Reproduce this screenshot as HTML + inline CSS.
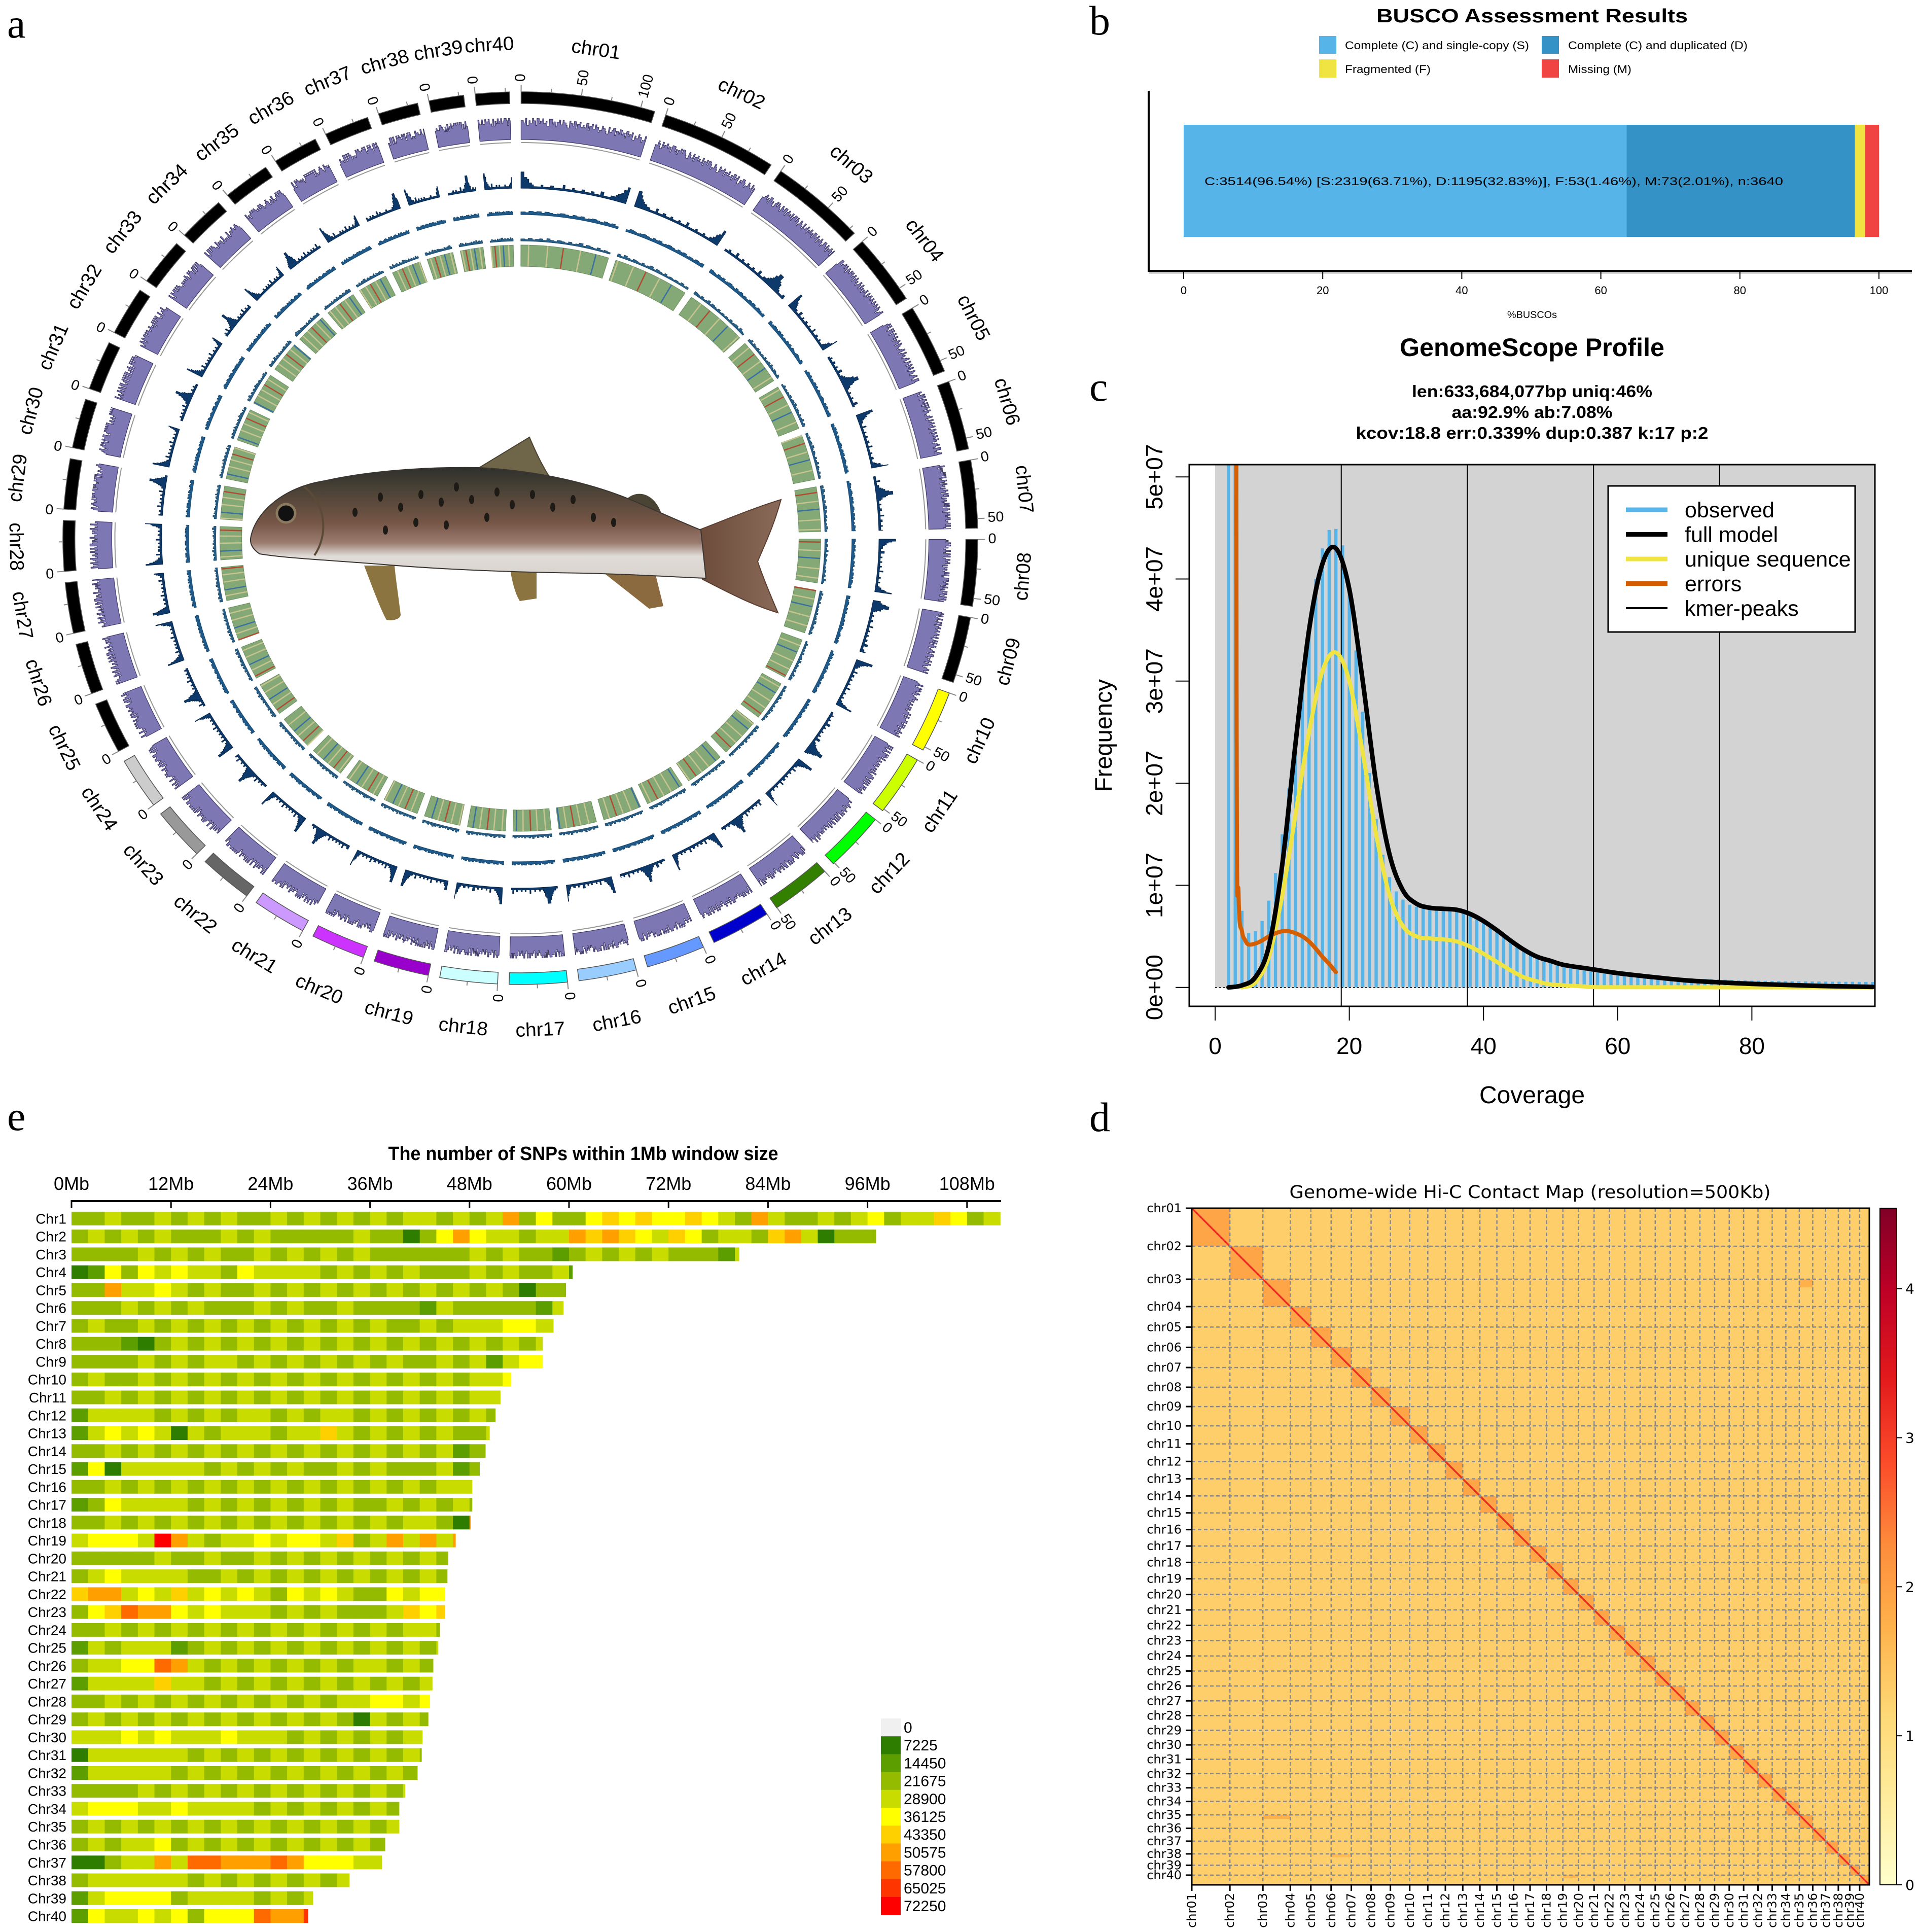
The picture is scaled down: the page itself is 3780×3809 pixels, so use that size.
<!DOCTYPE html>
<html><head><meta charset="utf-8"><title>Genome assembly figure</title>
<style>html,body{margin:0;padding:0;background:#fff}svg{display:block}</style></head>
<body>
<svg id="fig" xmlns="http://www.w3.org/2000/svg" width="3780" height="3809" viewBox="0 0 3780 3809" font-family="Liberation Sans, sans-serif">
<defs>
<linearGradient id="fishBody" x1="0" y1="0" x2="0" y2="1">
<stop offset="0" stop-color="#2f302c"/><stop offset="0.2" stop-color="#4a4236"/><stop offset="0.5" stop-color="#765646"/><stop offset="0.68" stop-color="#9a7c70"/><stop offset="0.8" stop-color="#e0dcd8"/><stop offset="1" stop-color="#d8d2cc"/>
</linearGradient>
<linearGradient id="tailGrad" x1="0" y1="0" x2="1" y2="0"><stop offset="0" stop-color="#6b4a3a"/><stop offset="1" stop-color="#8a6a58"/></linearGradient>
<linearGradient id="cbarGrad" x1="0" y1="0" x2="0" y2="1">
<stop offset="0" stop-color="#800026"/><stop offset="0.12" stop-color="#bd0026"/><stop offset="0.25" stop-color="#e31a1c"/><stop offset="0.38" stop-color="#fc4e2a"/><stop offset="0.5" stop-color="#fd8d3c"/><stop offset="0.62" stop-color="#feb24c"/><stop offset="0.75" stop-color="#fed976"/><stop offset="0.88" stop-color="#ffeda0"/><stop offset="1" stop-color="#ffffcc"/>
</linearGradient>
<clipPath id="gsClip"><rect x="2345" y="916" width="1352" height="1068"/></clipPath>
</defs>
<rect x="0" y="0" width="3780" height="3809" fill="#ffffff"/>

<text x="14" y="74" font-family="Liberation Serif, serif" font-size="82">a</text>
<text x="2148" y="68" font-family="Liberation Serif, serif" font-size="82">b</text>
<text x="2148" y="790" font-family="Liberation Serif, serif" font-size="82">c</text>
<text x="2148" y="2230" font-family="Liberation Serif, serif" font-size="82">d</text>
<text x="14" y="2228" font-family="Liberation Serif, serif" font-size="82">e</text>

<g id="circos" transform="translate(1026,1061) scale(1.025,1)"></g>

<g id="fish">
<path d="M935,928 L1044,862 C1060,900 1075,930 1098,962 Z" fill="#6f6548" stroke="#4a4030" stroke-width="2"/>
<path d="M1228,992 C1250,962 1290,968 1305,1015 L1262,1018 Z" fill="#4a4434"/>
<path d="M1370,1048 C1430,1025 1490,1000 1540,985 C1525,1040 1505,1080 1494,1107 C1505,1140 1520,1175 1534,1208 C1480,1192 1430,1165 1385,1142 Z" fill="url(#tailGrad)" stroke="#5a3e30" stroke-width="2"/>
<path d="M718,1115 C735,1160 750,1200 762,1222 C775,1225 790,1220 790,1212 C785,1170 780,1140 778,1115 Z" fill="#8c7440"/>
<path d="M1004,1110 C1008,1140 1015,1170 1025,1185 L1058,1180 L1058,1112 Z" fill="#8c7440"/>
<path d="M1176,1118 L1280,1200 L1308,1195 L1290,1122 Z" fill="#8c6a40"/>
<path d="M494,1062 C502,1010 560,960 640,948 C720,930 830,920 945,922 C1065,928 1175,955 1255,990 C1305,1012 1345,1030 1382,1045 L1392,1140 C1330,1138 1250,1132 1150,1130 C1000,1128 860,1122 745,1112 C640,1104 560,1100 512,1092 C500,1084 493,1074 494,1062 Z" fill="url(#fishBody)" stroke="#3a3530" stroke-width="2"/>
<path d="M600,960 C640,990 650,1050 620,1095" fill="none" stroke="#5a4a36" stroke-width="4"/>
<circle cx="564" cy="1012" r="18" fill="#111" stroke="#8a7a60" stroke-width="5"/>
<g fill="#1e1a16">
<ellipse cx="750" cy="980" rx="5" ry="9"/><ellipse cx="790" cy="1000" rx="5" ry="9"/><ellipse cx="830" cy="975" rx="5" ry="9"/><ellipse cx="870" cy="990" rx="5" ry="9"/><ellipse cx="900" cy="960" rx="5" ry="9"/><ellipse cx="930" cy="985" rx="5" ry="9"/><ellipse cx="980" cy="970" rx="5" ry="9"/><ellipse cx="1010" cy="995" rx="5" ry="9"/><ellipse cx="1050" cy="975" rx="5" ry="9"/><ellipse cx="1090" cy="1000" rx="5" ry="9"/><ellipse cx="1130" cy="985" rx="5" ry="9"/><ellipse cx="820" cy="1030" rx="5" ry="9"/><ellipse cx="760" cy="1045" rx="5" ry="9"/><ellipse cx="880" cy="1035" rx="5" ry="9"/><ellipse cx="960" cy="1020" rx="5" ry="9"/><ellipse cx="1170" cy="1020" rx="5" ry="9"/><ellipse cx="1210" cy="1030" rx="5" ry="9"/><ellipse cx="700" cy="1010" rx="5" ry="9"/>
</g>
</g>

<g id="busco">
<text x="3021" y="44" text-anchor="middle" font-weight="bold" font-size="38" textLength="614" lengthAdjust="spacingAndGlyphs">BUSCO Assessment Results</text>
<rect x="2601" y="71" width="34" height="35" fill="#56b4e8"/>
<text x="2652" y="97" font-size="22" textLength="363" lengthAdjust="spacingAndGlyphs">Complete (C) and single-copy (S)</text>
<rect x="3040" y="71" width="34" height="35" fill="#3492c7"/>
<text x="3092" y="97" font-size="22" textLength="354" lengthAdjust="spacingAndGlyphs">Complete (C) and duplicated (D)</text>
<rect x="2601" y="117" width="34" height="36" fill="#f0e442"/>
<text x="2652" y="144" font-size="22" textLength="169" lengthAdjust="spacingAndGlyphs">Fragmented (F)</text>
<rect x="3040" y="117" width="34" height="36" fill="#f04442"/>
<text x="3092" y="144" font-size="22" textLength="125" lengthAdjust="spacingAndGlyphs">Missing (M)</text>
<g id="buscoBars"></g>
<text x="2375" y="365" font-size="22" textLength="1141" lengthAdjust="spacingAndGlyphs">C:3514(96.54%) [S:2319(63.71%), D:1195(32.83%)], F:53(1.46%), M:73(2.01%), n:3640</text>
<line x1="2265" y1="179" x2="2265" y2="534" stroke="#000" stroke-width="4"/>
<line x1="2263" y1="534" x2="3770" y2="534" stroke="#000" stroke-width="4"/>
<line x1="2265" y1="538" x2="3770" y2="538" stroke="#bbb" stroke-width="3"/>
<g id="buscoTicks"></g>
<text x="3021" y="627" text-anchor="middle" font-size="19" textLength="98" lengthAdjust="spacingAndGlyphs">%BUSCOs</text>
</g>

<g id="gs">
<text x="3021" y="702" text-anchor="middle" font-weight="bold" font-size="50" textLength="522" lengthAdjust="spacingAndGlyphs">GenomeScope Profile</text>
<text x="3021" y="783" text-anchor="middle" font-weight="bold" font-size="33" textLength="474" lengthAdjust="spacingAndGlyphs">len:633,684,077bp uniq:46%</text>
<text x="3021" y="824" text-anchor="middle" font-weight="bold" font-size="33" textLength="317" lengthAdjust="spacingAndGlyphs">aa:92.9% ab:7.08%</text>
<text x="3021" y="865" text-anchor="middle" font-weight="bold" font-size="33" textLength="695" lengthAdjust="spacingAndGlyphs">kcov:18.8 err:0.339%  dup:0.387  k:17 p:2</text>
<rect x="2396" y="916" width="1301" height="1031" fill="#d3d3d3"/>
<g id="gsMarks" clip-path="url(#gsClip)"></g>
<rect x="2345" y="916" width="1352" height="1068" fill="none" stroke="#000" stroke-width="3"/>
<g id="gsAxes"></g>
<text transform="translate(2192,1450) rotate(-90)" text-anchor="middle" font-size="47">Frequency</text>
<text x="3021" y="2175" text-anchor="middle" font-size="48">Coverage</text>
<rect x="3171" y="958" width="487" height="288" fill="#fff" stroke="#000" stroke-width="3"/>
<g id="gsLegend"></g>
</g>

<g id="snp">
<text x="1150" y="2287" text-anchor="middle" font-weight="bold" font-size="38" textLength="769" lengthAdjust="spacingAndGlyphs">The number of SNPs within 1Mb window size</text>
<line x1="141" y1="2368" x2="1974" y2="2368" stroke="#000" stroke-width="4"/>
<g id="snpAxis"></g>
<g id="snpRows"></g>
<g id="snpLegend"></g>
</g>

<g id="hic" font-family="DejaVu Sans, sans-serif">
<text x="3017" y="2362" text-anchor="middle" font-size="35" textLength="949" lengthAdjust="spacingAndGlyphs">Genome-wide Hi-C Contact Map (resolution=500Kb)</text>
<g id="hicMap"></g>
<rect x="2350" y="2382" width="1336" height="1334" fill="none" stroke="#000" stroke-width="3"/>
<g id="hicLabels"></g>
<rect x="3707" y="2382" width="33" height="1334" fill="url(#cbarGrad)" stroke="#000" stroke-width="2"/>
<g id="cbarTicks"></g>
</g>
</svg>

<script>
const CHR_NAMES = ["01","02","03","04","05","06","07","08","09","10","11","12","13","14","15","16","17","18","19","20","21","22","23","24","25","26","27","28","29","30","31","32","33","34","35","36","37","38","39","40"];
const CHR_LEN = [112,97,80.5,60.4,59.6,59.3,58.1,56.8,56.8,53,51.7,51.1,50.4,49.9,49.2,48.3,48.3,48.1,46.3,45.4,45.3,45,45,44.4,44.2,43.6,43.5,43.2,43,42.3,42.2,41.7,40.2,39.5,39.5,37.8,37.4,33.5,29.1,28.5];
const CHR_COLOR = ["#000","#000","#000","#000","#000","#000","#000","#000","#000","#ffff00","#ccff00","#00ff00","#338000","#0000cc","#6699ff","#99ccff","#00ffff","#ccffff","#9900cc","#cc33ff","#cc99ff","#666666","#999999","#cccccc","#000","#000","#000","#000","#000","#000","#000","#000","#000","#000","#000","#000","#000","#000","#000","#000"];
const PURPLE_PAT = "87968798697897869978689798769879689787968979867987697896879786978968798679";
const BLUE1_PAT = "96532111211121111311121112111211131112234579";
const BLUE2_PAT = "4354535434543545345435453";
const BLUE3_PAT = "3242342532432423524324232";
const STRIPE_PAT = "....y..........y........r.........y........b.......";
const BUSCO_CATS = ["single","duplicated","fragmented","missing"];
const BUSCO_PCT = [63.71, 32.83, 1.46, 2.01];
const BUSCO_COLORS = ["#56b4e8","#3492c7","#f0e442","#f04442"];
const BUSCO_TICKS = [0,20,40,60,80,100];
const GS_OBS_COV = [2,3,4,5,6,7,8,9,10,11,12,13,14,15,16,17,18,19,20,21,22,23,24,25,26,27,28,29,30,31,32,33,34,35,36,37,38,39,40,41,42,43,44,45,46,47,48,49,50,51,52,53,54,55,56,57,58,59,60,61,62,63,64,65,66,67,68,69,70,71,72,73,74,75,76,77,78,79,80,81,82,83,84,85,86,87,88,89,90,91,92,93,94,95,96,97,98];
const GS_OBS = [80,60,7.5,5.3,5.5,6.5,8.5,11.2,15,19.5,24.7,30,35.3,40,43,44.8,44.9,43.3,39,33,27,21,16.5,13,10.8,9.4,8.6,8.1,7.9,7.8,7.8,7.7,7.7,7.6,7.5,7.3,7.1,6.8,6.4,6.0,5.5,5.0,4.5,4.1,3.7,3.3,3.0,2.7,2.5,2.3,2.2,2.1,2.0,1.9,1.8,1.75,1.65,1.55,1.5,1.4,1.35,1.3,1.2,1.15,1.1,1.05,1.0,0.95,0.9,0.88,0.85,0.82,0.8,0.78,0.75,0.72,0.7,0.68,0.66,0.65,0.64,0.63,0.62,0.61,0.6,0.6,0.59,0.58,0.58,0.57,0.56,0.56,0.55,0.55,0.54,0.54,0.53];
const GS_FULL_COV = [2,4,6,8,10,12,14,16,18,20,22,24,26,28,30,32,34,36,38,40,42,44,46,48,50,52,56,60,64,70,75,80,90,98];
const GS_FULL = [0,0.2,1,4,12,24,35,41.5,43,39,30,20,13,9.5,8.2,7.8,7.7,7.6,7.2,6.5,5.6,4.6,3.7,3,2.6,2.2,1.8,1.4,1.1,0.7,0.5,0.35,0.15,0.05];
const GS_UNIQ_COV = [4,6,8,10,12,14,16,18,20,22,24,26,28,30,32,34,36,38,40,42,44,46,48,50,55,60,98];
const GS_UNIQ = [0,0.5,3,9,17,25,31,32.8,30,23,15,9,6,5,4.8,4.7,4.5,4,3.3,2.5,1.7,1,0.6,0.3,0.1,0.02,0];
const GS_ERR_COV = [3,3.2,3.5,4,4.5,5,6,7,8,9,10,11,12,13,14,15,16,17,18];
const GS_ERR = [200,30,9,5.5,4.6,4.2,4.3,4.6,5.0,5.3,5.5,5.5,5.3,5.0,4.5,3.8,3.0,2.3,1.5];
const GS_PEAKS = [18.8,37.6,56.4,75.2];
const GS_XTICKS = [0,20,40,60,80];
const GS_YTICKS = [0,10,20,30,40,50];
const GS_YLABELS = ["0e+00","1e+07","2e+07","3e+07","4e+07","5e+07"];
const GS_LEGEND = ["observed","full model","unique sequence","errors","kmer-peaks"];
const GS_LEGEND_COLORS = ["#56b4e9","#000000","#f0e442","#d55e00","#000000"];
const SNP_ROWS = [
"33433434343343434343443434735335656556543743343453446534",
"3434343334343333343313575443447676546534436741333434",
"3333434343343434343333334343323434343332",
"1253545443544443434343334343342",
"3374454343343434343434343431333",
"3334343433343433433332433333245541",
"34334343434343434343343444554451",
"3332134343434343434343434343443",
"3333434344343434343433434245553",
"343343434343434343434343445432",
"3343434343434343434343434441",
"2444434343443434434343434344",
"2454541434443446434343433443",
"3343434343434343434343423443",
"2514444434343433434333423334",
"3343434343434343434343444341",
"2354444343434343433434343441",
"3343434343434343434344317663",
"45554A743445455463474747995553",
"3333343343343434343434344441",
"3454444334343434343434341433",
"67745464545435454335455336541",
"35687754544434343334656445674544",
"3343434343434343434344344241",
"2434442343434343434343434443",
"3445587434343434344343434343",
"2444464434343434343434345342",
"3343434343434343445545555542",
"3434343434343434314343434343",
"4445454445444343434344444232",
"1444444343434343434343434342",
"2444443434343434343434343342",
"3333434343434343434343425451",
"4555445444434343434353434342",
"3434343434343434343455354342",
"3434453434343434343433444541",
"1134474887778755544445443",
"3444444343434343434434342",
"24555534444343433432",
"2544545355587797553"];
const SNP_LEVEL_COLORS = ["#f0f0f0","#2e7d00","#5c9e00","#95bb00","#c8dc00","#ffff00","#ffd000","#ff9f00","#ff6a00","#ff3500","#ff0000"];
const SNP_LEGEND_VALUES = ["0","7225","14450","21675","28900","36125","43350","50575","57800","65025","72250"];
const SNP_TICKS = [0,12,24,36,48,60,72,84,96,108];
const SNP_TICK_LABELS = ["0Mb","12Mb","24Mb","36Mb","48Mb","60Mb","72Mb","84Mb","96Mb","108Mb"];
const HIC_BG = 1.3;
const HIC_INTRA = 1.9;
const HIC_DIAG = 3.2;
const HIC_INTER = [[34,2,1.75],[2,34,1.75],[37,5,1.6],[39,18,1.6],[18,39,1.6]];
const CBAR_TICKS = [0,1,2,3,4];
const CBAR_MAX = 4.54;

const NS = "http://www.w3.org/2000/svg";
function el(tag, attrs, parent) {
  const e = document.createElementNS(NS, tag);
  for (const k in attrs) e.setAttribute(k, attrs[k]);
  parent.appendChild(e);
  return e;
}
const $ = id => document.getElementById(id);

(function(){
  const g = $("circos");
  const GAP = 1.45, START = 0.1;
  const total = CHR_LEN.reduce((a,b)=>a+b,0);
  const K = (360 - 40*GAP) / total;
  const R = {kOut:880, kIn:857, pBase:786, pMax:42, b1Base:690, b1Max:32, b2Base:638, b2Max:12, b3Base:586, b3Max:12, hIn:536, hOut:578, lab:972, tick:900};
  const pol = (r,a) => { const t=a*Math.PI/180; return [ (r*Math.sin(t)).toFixed(1), (-r*Math.cos(t)).toFixed(1) ]; };
  const sector = (r0,r1,a0,a1) => { const p1=pol(r1,a0),p2=pol(r1,a1),p3=pol(r0,a1),p4=pol(r0,a0); const L=(a1-a0)>180?1:0;
    return `M${p1} A${r1},${r1} 0 ${L} 1 ${p2} L${p3} A${r0},${r0} 0 ${L} 0 ${p4} Z`; };
  function track(pat, base, max, a0, len, ci, rev, fill, stroke, name) {
    const n = Math.ceil(len); let d = "";
    for (let j=0;j<n;j++) {
      let idx = Math.floor(j/n*pat.length);
      if (rev) idx = pat.length-1-idx;
      const v = +pat[(idx + (rev?0:ci*5)) % pat.length];
      const h = base + v/9*max;
      const s = a0 + j*K, e = a0 + Math.min(j+1,len)*K;
      d += (j===0?"M":"L") + pol(h,s) + " L" + pol(h,e) + " ";
    }
    d += "L" + pol(base, a0+len*K) + " A" + base + "," + base + " 0 0 0 " + pol(base, a0) + " Z";
    const p = el("path", {d:d, fill:fill, stroke:stroke, "stroke-width":1.2, "stroke-linejoin":"round"}, g);
    
    
  }
  let a = START;
  for (let i=0;i<40;i++) {
    const len = CHR_LEN[i], a1 = a + len*K, mid = (a+a1)/2;
    const ideo = el("path", {d:sector(R.kIn,R.kOut,a,a1), fill:CHR_COLOR[i], stroke:"#555", "stroke-width":1.5}, g);
    
    
    for (let t=0;t<=len;t+=25) {
      const ta = a + t*K, q1=pol(R.kOut,ta), q2=pol(R.kOut+(t%50===0?14:8),ta);
      el("line", {x1:q1[0],y1:q1[1],x2:q2[0],y2:q2[1],stroke:"#888","stroke-width":2}, g);
      if (t%50===0) {
        const q = pol(R.tick, ta);
        const tl = el("text", {x:0,y:0,"font-size":28,"dominant-baseline":"middle",transform:`translate(${q[0]},${q[1]}) rotate(${ta-90})`}, g);
        tl.textContent = String(t);
        
        
      }
    }
    const lp = pol(R.lab, mid);
    const rot = (mid>92 && mid<270) ? mid-180 : mid;
    const lab = el("text", {x:0,y:0,"font-size":38,"text-anchor":"middle","dominant-baseline":"middle",transform:`translate(${lp[0]},${lp[1]}) rotate(${rot})`}, g);
    lab.textContent = "chr" + CHR_NAMES[i];
    
    
    track(PURPLE_PAT, R.pBase, R.pMax, a, len, i, false, "#7d77b3", "#3d3868", "gene-density-track");
    const bl = el("path", {d:`M${pol(R.pBase-6,a)} A${R.pBase-6},${R.pBase-6} 0 0 1 ${pol(R.pBase-6,a1)}`, fill:"none", stroke:"#999","stroke-width":2}, g);
    
    
    track(BLUE1_PAT, R.b1Base, R.b1Max, a, len, i, i%2===1, "#0d3a6b", "#0a2a50", "repeat-density-track");
    track(BLUE2_PAT, R.b2Base, R.b2Max, a, len, i, false, "#1f5a8a", "#174a72", "gc-content-track");
    track(BLUE3_PAT, R.b3Base, R.b3Max, a, len, i, false, "#2a6088", "#1d4d70", "snp-density-track");
    const hm = el("path", {d:sector(R.hIn,R.hOut,a,a1), fill:"#84a977", stroke:"#6d8f60","stroke-width":1}, g);
    
    
    const n = STRIPE_PAT.length;
    for (let s=0;s<n;s++) {
      const c = STRIPE_PAT[(s+i*3)%n];
      if (c===".") continue;
      const sa = a + (s+0.5)/n*len*K, q1=pol(R.hIn,sa), q2=pol(R.hOut,sa);
      const col = c==="y" ? "#c8c490" : (c==="r" ? "#b04a30" : "#3a70a0");
      const st = el("line", {x1:q1[0],y1:q1[1],x2:q2[0],y2:q2[1],stroke:col,"stroke-width":2.5}, g);
      
      
    }
    a = a1 + GAP;
  }
})();

(function(){
  const bx = v => 2334 + 13.71*v;
  const gb = $("buscoBars"), gt = $("buscoTicks");
  let acc = 0;
  for (let i=0;i<BUSCO_PCT.length;i++) {
    const r = el("rect", {x:bx(acc), y:246, width:Math.max(0,bx(acc+BUSCO_PCT[i])-bx(acc)), height:221, fill:BUSCO_COLORS[i]}, gb);
    
    
    acc += BUSCO_PCT[i];
  }
  for (const t of BUSCO_TICKS) {
    el("line", {x1:bx(t),y1:536,x2:bx(t),y2:550,stroke:"#000","stroke-width":2}, gt);
    const tx = el("text", {x:bx(t), y:580, "text-anchor":"middle","font-size":22}, gt);
    tx.textContent = String(t);
    
    
  }
})();

(function(){
  const X = v => 2396 + 13.23*v;
  const Y = v => 1946.7 - 20.13*v;
  const gm = $("gsMarks"), ga = $("gsAxes"), gl = $("gsLegend");
  for (let i=0;i<GS_OBS.length;i++) {
    const c = GS_OBS_COV[i], h = GS_OBS[i];
    const b = el("rect", {x:X(c)-3.2, y:Y(h), width:6.4, height:Y(0)-Y(h), fill:"#56b4e9"}, gm);
    
    
  }
  el("line", {x1:X(0),y1:Y(0),x2:3697,y2:Y(0),stroke:"#000","stroke-width":1.5,"stroke-dasharray":"4,4"}, gm);
  for (const p of GS_PEAKS) {
    const l = el("line", {x1:X(p),y1:916,x2:X(p),y2:1984,stroke:"#000","stroke-width":2}, gm);
    
    
  }
  const smooth = (xs, ys, color, w, name) => {
    const P = xs.map((x,i)=>[X(x), Y(ys[i])]);
    let d = "M" + P[0][0].toFixed(1) + "," + P[0][1].toFixed(1);
    for (let i=0;i<P.length-1;i++) {
      const p0=P[Math.max(0,i-1)], p1=P[i], p2=P[i+1], p3=P[Math.min(P.length-1,i+2)];
      const c1=[p1[0]+(p2[0]-p0[0])/6, p1[1]+(p2[1]-p0[1])/6], c2=[p2[0]-(p3[0]-p1[0])/6, p2[1]-(p3[1]-p1[1])/6];
      d += " C"+c1[0].toFixed(1)+","+c1[1].toFixed(1)+" "+c2[0].toFixed(1)+","+c2[1].toFixed(1)+" "+p2[0].toFixed(1)+","+p2[1].toFixed(1);
    }
    const p = el("path", {d:d, fill:"none", stroke:color, "stroke-width":w, "stroke-linejoin":"round","stroke-linecap":"round"}, gm);
    
    
  };
  smooth(GS_UNIQ_COV, GS_UNIQ, "#f0e442", 8, "unique-sequence-line");
  smooth(GS_ERR_COV, GS_ERR, "#d55e00", 8, "errors-line");
  smooth(GS_FULL_COV, GS_FULL, "#000000", 9, "full-model-line");
  GS_XTICKS.forEach(t => {
    el("line", {x1:X(t),y1:1984,x2:X(t),y2:2012,stroke:"#000","stroke-width":2}, ga);
    const tx = el("text", {x:X(t),y:2078,"text-anchor":"middle","font-size":46}, ga);
    tx.textContent = String(t);
    
    
  });
  GS_YTICKS.forEach((t,i) => {
    el("line", {x1:2345,y1:Y(t),x2:2318,y2:Y(t),stroke:"#000","stroke-width":2}, ga);
    const tx = el("text", {x:0,y:0,"text-anchor":"middle","font-size":46,transform:`translate(2292,${Y(t)}) rotate(-90)`}, ga);
    tx.textContent = GS_YLABELS[i];
    
    
  });
  GS_LEGEND.forEach((name,i) => {
    const y = 1005 + i*48.5;
    el("line", {x1:3206,y1:y,x2:3288,y2:y,stroke:GS_LEGEND_COLORS[i],"stroke-width":i===4?4:9}, gl);
    const tx = el("text", {x:3322,y:y+15,"font-size":43}, gl);
    tx.textContent = name;
    
    
  });
})();

(function(){
  const X = mb => 141 + 16.35*mb;
  const ga = $("snpAxis"), gr = $("snpRows"), gl = $("snpLegend");
  SNP_TICKS.forEach((t,i) => {
    el("line", {x1:X(t),y1:2366,x2:X(t),y2:2382,stroke:"#000","stroke-width":3}, ga);
    const tx = el("text", {x:X(t),y:2346,"text-anchor":"middle","font-size":36}, ga);
    tx.textContent = SNP_TICK_LABELS[i];
    
    
  });
  for (let i=0;i<40;i++) {
    const yc = 2402.4 + 35.26*i, len = CHR_LEN[i], row = SNP_ROWS[i];
    const lab = el("text", {x:131,y:yc+10,"text-anchor":"end","font-size":28}, gr);
    lab.textContent = "Chr" + (i+1);
    
    
    const nb = Math.ceil(len/2);
    for (let b=0;b<nb;b++) {
      const ch = row[b] || "4";
      const lv = ch==="A" ? 10 : +ch;
      const s = b*2, e = Math.min(len, b*2+2);
      const r = el("rect", {x:X(s).toFixed(1), y:(yc-13.5).toFixed(1), width:(X(e)-X(s)+0.6).toFixed(1), height:27, fill:SNP_LEVEL_COLORS[lv]}, gr);
      
      
    }
  }
  SNP_LEGEND_VALUES.forEach((v,i) => {
    const y = 3388 + i*35.2;
    const r = el("rect", {x:1737,y:y,width:39,height:35.4,fill:SNP_LEVEL_COLORS[i]}, gl);
    
    
    const tx = el("text", {x:1782,y:y+28,"font-size":30}, gl);
    tx.textContent = v;
    
    
  });
})();

(function(){
  const stops = [[0,"#800026"],[0.12,"#bd0026"],[0.25,"#e31a1c"],[0.38,"#fc4e2a"],[0.5,"#fd8d3c"],[0.62,"#feb24c"],[0.75,"#fed976"],[0.88,"#ffeda0"],[1,"#ffffcc"]];
  const hex = h => [parseInt(h.slice(1,3),16),parseInt(h.slice(3,5),16),parseInt(h.slice(5,7),16)];
  function color(v) {
    const o = Math.min(1, Math.max(0, 1 - v/CBAR_MAX));
    for (let i=0;i<stops.length-1;i++) {
      if (o>=stops[i][0] && o<=stops[i+1][0]) {
        const f=(o-stops[i][0])/(stops[i+1][0]-stops[i][0]), a=hex(stops[i][1]), b=hex(stops[i+1][1]);
        return "rgb("+a.map((c,k)=>Math.round(c+(b[k]-c)*f)).join(",")+")";
      }
    }
    return stops[stops.length-1][1];
  }
  const total = CHR_LEN.reduce((a,b)=>a+b,0);
  const X0=2350, Y0=2382, W=1336, H=1334;
  const cum = [0]; CHR_LEN.forEach(l => cum.push(cum[cum.length-1]+l));
  const PX = mb => X0 + mb/total*W, PY = mb => Y0 + mb/total*H;
  const gm = $("hicMap"), gl = $("hicLabels");
  const bg = el("rect", {x:X0,y:Y0,width:W,height:H,fill:color(HIC_BG)}, gm);
  
  
  HIC_INTER.forEach(c => {
    const r = el("rect", {x:PX(cum[c[1]]),y:PY(cum[c[0]]),width:PX(cum[c[1]+1])-PX(cum[c[1]]),height:(PY(cum[c[0]+1])-PY(cum[c[0]]))*0.3,fill:color(c[2])}, gm);
    
    
  });
  for (let i=0;i<40;i++) {
    const r = el("rect", {x:PX(cum[i]),y:PY(cum[i]),width:PX(cum[i+1])-PX(cum[i]),height:PY(cum[i+1])-PY(cum[i]),fill:color(HIC_INTRA)}, gm);
    
    
  }
  const dg = el("line", {x1:X0,y1:Y0,x2:X0+W,y2:Y0+H,stroke:color(HIC_DIAG),"stroke-width":3.5}, gm);
  
  
  for (let i=1;i<40;i++) {
    el("line", {x1:PX(cum[i]),y1:Y0,x2:PX(cum[i]),y2:Y0+H,stroke:"#888","stroke-width":2.5,"stroke-dasharray":"7,5"}, gm);
    el("line", {x1:X0,y1:PY(cum[i]),x2:X0+W,y2:PY(cum[i]),stroke:"#888","stroke-width":2.5,"stroke-dasharray":"7,5"}, gm);
  }
  for (let i=0;i<40;i++) {
    const y = PY(cum[i]), x = PX(cum[i]);
    el("line", {x1:2338,y1:y,x2:2350,y2:y,stroke:"#000","stroke-width":3}, gl);
    const ty = el("text", {x:2330,y:y+8,"text-anchor":"end","font-size":24}, gl);
    ty.textContent = "chr" + CHR_NAMES[i];
    
    
    el("line", {x1:x,y1:3716,x2:x,y2:3728,stroke:"#000","stroke-width":3}, gl);
    const tx = el("text", {x:0,y:0,"text-anchor":"end","font-size":24,transform:`translate(${x+8},3732) rotate(-90)`}, gl);
    tx.textContent = "chr" + CHR_NAMES[i];
    
    
  }
  const gc = $("cbarTicks");
  CBAR_TICKS.forEach(t => {
    const y = 3716 - t/CBAR_MAX*1334;
    el("line", {x1:3740,y1:y,x2:3750,y2:y,stroke:"#000","stroke-width":2}, gc);
    const tx = el("text", {x:3757,y:y+10,"font-size":28}, gc);
    tx.textContent = String(t);
    
    
  });
})();
</script>
</body></html>
